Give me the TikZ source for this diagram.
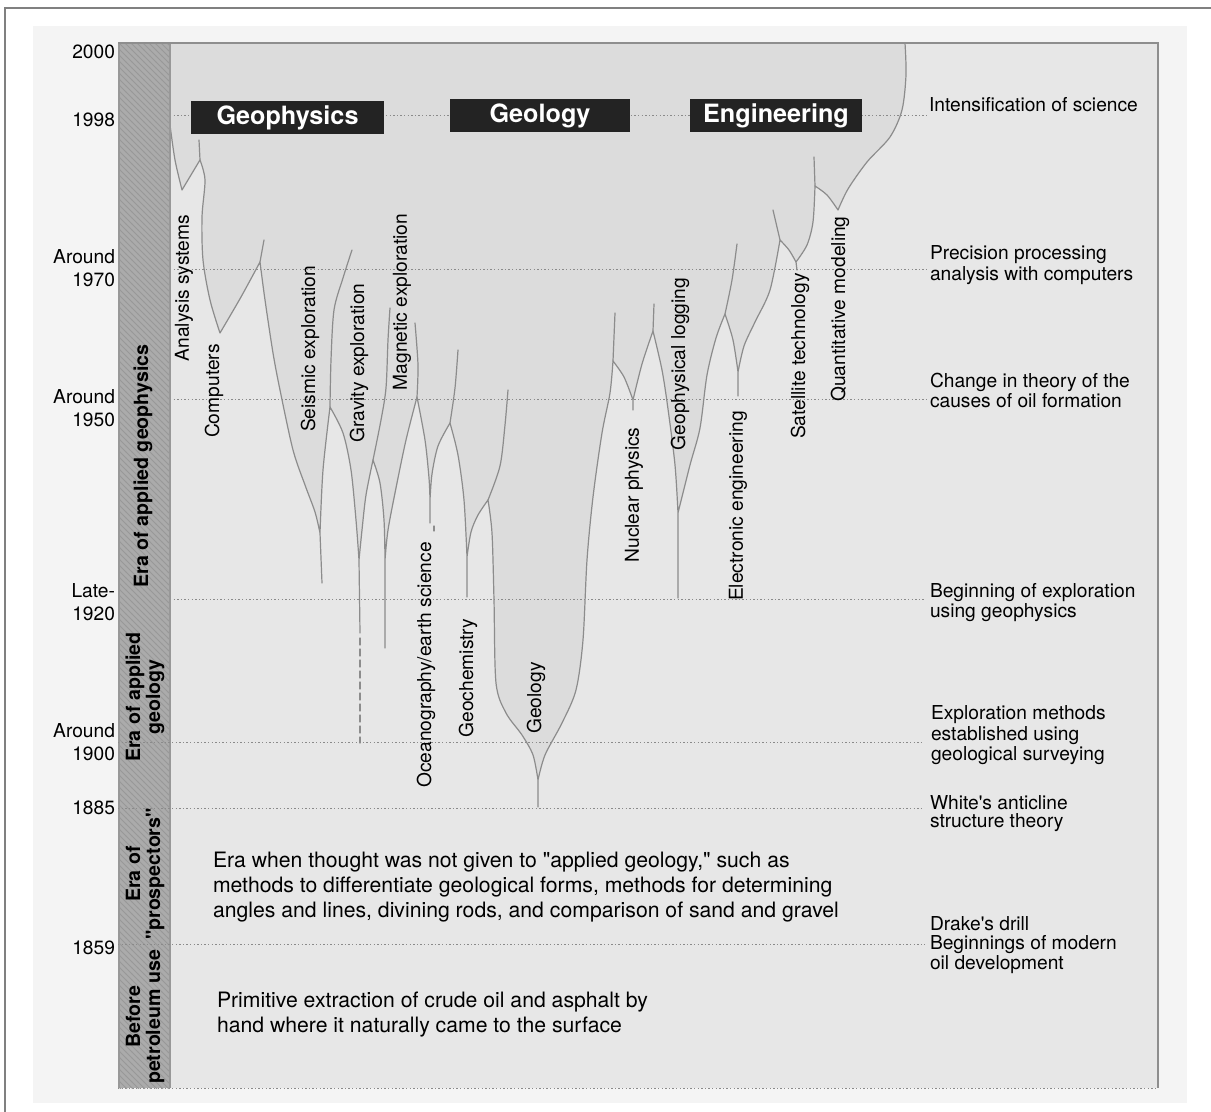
\documentclass[tikz,border=0pt]{standalone}
\usepackage{fontspec}
\setmainfont{TeX Gyre Heros}
\usetikzlibrary{positioning,patterns}

\definecolor{panelgray}{HTML}{F4F4F4}
\definecolor{chartgray}{HTML}{E7E7E7}
\definecolor{treegray}{HTML}{DCDCDC}
\definecolor{bandgray}{HTML}{ABABAB}
\definecolor{bandline}{HTML}{989898}
\definecolor{branchgray}{HTML}{8C8C8C}
\definecolor{dotgray}{HTML}{8A8A8A}
\definecolor{framegray}{HTML}{8E8E8E}
\definecolor{boxblack}{HTML}{232323}

\newcommand{\yearfont}{\fontsize{9.6}{11.5}\selectfont}
\newcommand{\notefont}{\fontsize{9.6}{9}\selectfont}
\newcommand{\bodyfont}{\fontsize{10.6}{12.6}\selectfont}
\newcommand{\erafont}{\fontsize{9.8}{10}\selectfont\bfseries}
\newcommand{\catfont}{\fontsize{12.6}{13}\selectfont\bfseries}

\begin{document}
\begin{tikzpicture}[x=0.5pt,y=-0.5pt,every node/.style={inner sep=0pt,outer sep=0pt}]
  \tikzstyle{branch}=[draw=branchgray,line width=0.6pt,line join=round,line cap=round]
  \tikzstyle{yearline}=[draw=dotgray,line width=0.5pt,dash pattern=on 0.7pt off 1.1pt]
  \tikzstyle{year}=[anchor=east,align=right,font=\yearfont]
  \tikzstyle{note}=[anchor=north west,align=left,font=\notefont]
  \tikzstyle{body}=[anchor=north west,align=left,font=\bodyfont]
  \tikzstyle{field}=[rotate=90,font=\yearfont]
  \tikzstyle{era}=[rotate=90,align=center,font=\erafont]
  \tikzstyle{category}=[fill=boxblack,text=white,font=\catfont,minimum height=16.5pt]

  \useasboundingbox (0,0) rectangle (1211,1112);

  \fill[panelgray] (33,26) rectangle (1187,1103);
  \fill[chartgray] (118,43) rectangle (1158,1088);

  \path[save path=\treeoutline]
    plot[smooth] coordinates {(170,125) (175,160) (182,190)}
    -- plot[smooth] coordinates {(182,190) (191,175) (200,160)}
    -- plot[smooth] coordinates {(200,160) (205,180) (202,217) (203,260) (210,300) (220,333)}
    -- plot[smooth] coordinates {(220,333) (241,297) (260,262)}
    -- plot[smooth] coordinates {(260,262) (265,300) (273,353) (280,390) (293,450) (305,485) (315,512) (320,533)}
    -- (322,583) -- (320,533)
    -- plot[smooth] coordinates {(320,533) (323,470) (330,407)}
    -- plot[smooth] coordinates {(330,407) (343,433) (351,470) (356,520) (359,560)}
    -- (360,633) -- (359,560)
    -- plot[smooth] coordinates {(359,560) (362,530) (366,495) (373,460)}
    -- plot[smooth] coordinates {(373,460) (380,483) (384,520) (385,560)}
    -- (385,648) -- (385,560)
    -- plot[smooth] coordinates {(385,560) (388,530) (396,488) (406,440) (417,397)}
    -- plot[smooth] coordinates {(417,397) (425,440) (429,478) (430,500)}
    -- (430,523) -- (430,500)
    -- plot[smooth] coordinates {(430,500) (432,474) (438,446) (450,423)}
    -- plot[smooth] coordinates {(450,423) (458,455) (464,500) (467,557)}
    -- (467,597) -- (467,557)
    -- plot[smooth] coordinates {(467,557) (471,532) (478,515) (488,500)}
    -- plot[smooth] coordinates {(488,500) (492,533) (494,600) (496,683) (506,713) (522,735) (533,755) (538,780)}
    -- (538,807) -- (538,780)
    -- plot[smooth] coordinates {(538,780) (545,755) (562,723) (576,690) (583,640) (587,560) (593,497) (602,433) (610,393) (613,361)}
    -- plot[smooth] coordinates {(613,361) (624,377) (633,400)}
    -- (633,410) -- (633,400)
    -- plot[smooth] coordinates {(633,400) (642,364) (653,331)}
    -- plot[smooth] coordinates {(653,331) (662,370) (668,409) (675,465) (678,513)}
    -- (678,598) -- (678,513)
    -- plot[smooth] coordinates {(678,513) (690,465) (700,428) (707,375) (716,338) (725,314)}
    -- plot[smooth] coordinates {(725,314) (733,340) (738,372)}
    -- (738,396) -- (738,372)
    -- plot[smooth] coordinates {(738,372) (744,346) (755,322) (770,290) (780,240)}
    -- plot[smooth] coordinates {(780,240) (789,250) (796,262)}
    -- (797,270) -- (796,262)
    -- plot[smooth] coordinates {(796,262) (807,245) (813,222) (815,186)}
    -- plot[smooth] coordinates {(815,186) (827,195) (838,210)}
    -- plot[smooth] coordinates {(838,210) (848,189) (867,162) (890,137) (902,110) (906,75) (905,43)}
    -- (170,43) -- cycle;
  \fill[treegray,use path=\treeoutline];

  \draw[yearline] (170,116) -- (928,116);
  \draw[yearline] (170,270) -- (928,270);
  \draw[yearline] (170,400) -- (927,400);
  \draw[yearline] (170,600) -- (925,600);
  \draw[yearline] (118,742) -- (922,742);
  \draw[yearline] (118,808) -- (923,808);
  \draw[yearline] (118,944) -- (925,944);
  \draw[yearline] (118,1088) -- (1158,1088);

  \draw[branch,use path=\treeoutline];
  \draw[branch] (200,160) -- (199,140);
  \draw[branch] (260,262) -- (264,240);
  \draw[branch] plot[smooth] coordinates {(330,407) (331,360) (334,310) (343,278) (352,250)};
  \draw[branch] plot[smooth] coordinates {(373,460) (381,420) (386,388) (388,340) (390,308)};
  \draw[branch] plot[smooth] coordinates {(417,397) (418,365) (415,323)};
  \draw[branch] plot[smooth] coordinates {(450,423) (455,388) (458,350)};
  \draw[branch] plot[smooth] coordinates {(488,500) (500,466) (505,425) (508,390)};
  \draw[branch] (613,361) -- (615,313);
  \draw[branch] (653,331) -- (654,304);
  \draw[branch] plot[smooth] coordinates {(725,314) (732,280) (737,244)};
  \draw[branch] (780,240) -- (773,210);
  \draw[branch] (815,186) -- (814,157);
  \draw[branch,dash pattern=on 3.5pt off 2pt] (360,638) -- (360,743);
  \draw[branch] (434,526) -- (434,531);

  \fill[bandgray] (118,43) rectangle (170,1088);
  \fill[pattern=north west lines,pattern color=bandline] (118,43) rectangle (170,1088);
  \draw[bandline,line width=0.8pt] (119,43) -- (119,1088);
  \draw[bandline,line width=0.6pt] (170,43) -- (170,1088);
  \draw[yearline] (118,742) -- (170,742);
  \draw[yearline] (118,808) -- (170,808);
  \draw[yearline] (118,944) -- (170,944);

  \draw[framegray,line width=0.9pt] (118,43) -- (1158,43) -- (1158,1088);
  \draw[gray,line width=0.7pt] (5,1120) -- (5,8) -- (1220,8);

  \node[year] (y2000) at (115,52) {2000};
  \node[year] (y1998) at (115,120) {1998};
  \node[year] (y1970) at (115,268) {Around\\1970};
  \node[year] (y1950) at (115,408) {Around\\1950};
  \node[year] (y1920) at (115,602) {Late-\\1920};
  \node[year] (y1900) at (115,742) {Around\\1900};
  \node[year] (y1885) at (115,808) {1885};
  \node[year] (y1859) at (115,948) {1859};

  \node[era] (geophysEra) at (143,466) {Era of applied geophysics};
  \node[era] (geologyEra) at (145,697) {Era of applied\\geology};
  \node[era] (prospEra) at (145,874) {Era of\\\textquotedbl prospectors\textquotedbl};
  \node[era] (beforeEra) at (145,1017) {Before\\petroleum use};

  \node[category,minimum width=96.5pt] (GP) at (287.5,117.5) {Geophysics};
  \node[category,minimum width=90pt] (GL) at (540,115.5) {Geology};
  \node[category,minimum width=86pt] (EN) at (776,115.5) {Engineering};

  \node[field] (AS) at (184,288) {Analysis systems};
  \node[field] (CO) at (214,391) {Computers};
  \node[field] (SE) at (310,349) {Seismic exploration};
  \node[field] (GR) at (359,363) {Gravity exploration};
  \node[field] (MA) at (402,302) {Magnetic exploration};
  \node[field] (OC) at (426,665) {Oceanography/earth science};
  \node[field] (GC) at (468,678) {Geochemistry};
  \node[field] (GE) at (536,698) {Geology};
  \node[field] (NP) at (634,495) {Nuclear physics};
  \node[field] (LO) at (680,364) {Geophysical logging};
  \node[field] (EE) at (738,506) {Electronic engineering};
  \node[field] (ST) at (800,356) {Satellite technology};
  \node[field] (QM) at (840,309) {Quantitative modeling};

  \node[font=\notefont,anchor=base west] (N1998) at (929,112) {Intensification of science};
  \node[note] (N1970) at (930,246) {Precision processing\\analysis with computers};
  \node[note] (N1950) at (930,373) {Change in theory of the\\causes of oil formation};
  \node[note] (N1920) at (930,583) {Beginning of exploration\\using geophysics};
  \node[note] (N1900) at (931,706) {Exploration methods\\established using\\geological surveying};
  \node[note] (N1885) at (930,796) {White\textquotesingle s anticline\\structure theory};
  \node[note] (N1859) at (930,917) {Drake\textquotesingle s drill\\Beginnings of modern\\oil development};

  \node[body] (prosp) at (213,852) {Era when thought was not given to \textquotedbl applied geology,\textquotedbl\ such as\\methods to differentiate geological forms, methods for determining\\angles and lines, divining rods, and comparison of sand and gravel};
  \node[body] (before) at (217,992) {Primitive extraction of crude oil and asphalt by\\hand where it naturally came to the surface};
\end{tikzpicture}
\end{document}
